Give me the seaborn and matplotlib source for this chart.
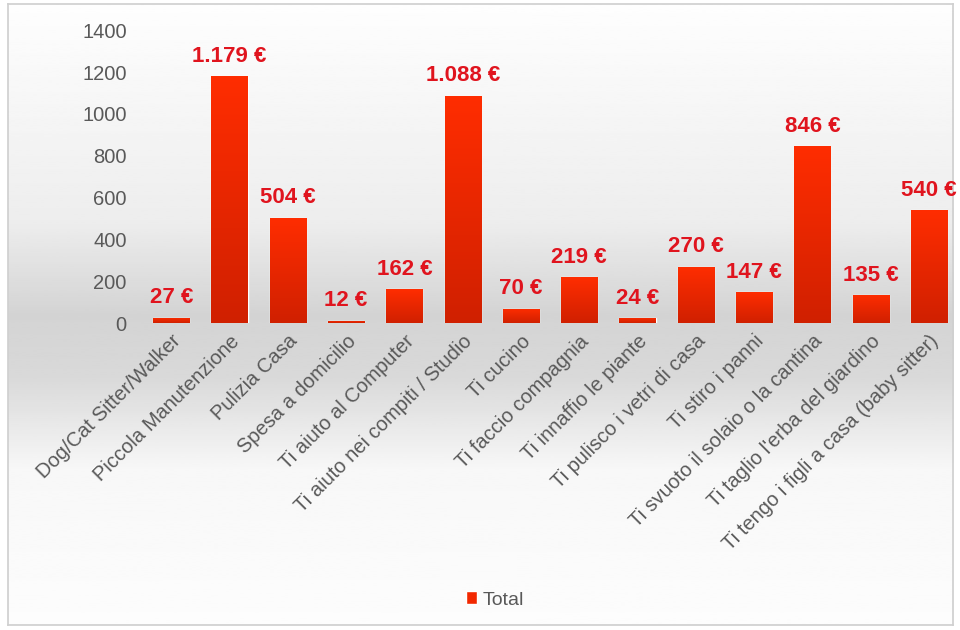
import numpy as np
import pandas as pd
import seaborn as sns
import matplotlib.pyplot as plt
from matplotlib.colors import LinearSegmentedColormap

categories = ["Dog/Cat Sitter/Walker", "Piccola Manutenzione", "Pulizia Casa", "Spesa a domicilio",
              "Ti aiuto al Computer", "Ti aiuto nei compiti / Studio", "Ti cucino", "Ti faccio compagnia",
              "Ti innaffio le piante", "Ti pulisco i vetri di casa", "Ti stiro i panni",
              "Ti svuoto il solaio o la cantina", "Ti taglio l'erba del giardino",
              "Ti tengo i figli a casa (baby sitter)"]
totals = [27, 1179, 504, 12, 162, 1088, 70, 219, 24, 270, 147, 846, 135, 540]
value_labels = ["27 €", "1.179 €", "504 €", "12 €", "162 €", "1.088 €", "70 €", "219 €",
                "24 €", "270 €", "147 €", "846 €", "135 €", "540 €"]

df = pd.DataFrame({"categoria": categories, "Total": totals})

sns.set_theme(style="white")
plt.rcParams['font.family'] = ['Liberation Sans', 'DejaVu Sans']

fig = plt.figure(figsize=(9.6, 6.3), dpi=100)
fig.patch.set_facecolor("white")

# background gradient of the chart frame
bg = fig.add_axes([0.008, 0.008, 0.985, 0.985], zorder=0)
rows = np.linspace(0, 1, 300)
shade = np.interp(rows, [0, 0.35, 0.5, 0.6, 0.75, 1.0], [0.995, 0.93, 0.83, 0.85, 0.97, 0.99])
bg.imshow(shade[:, None], aspect="auto", cmap="gray", vmin=0, vmax=1, extent=[0, 1, 0, 1])
bg.set_xticks([]); bg.set_yticks([])
for s in bg.spines.values():
    s.set_color("#d0d0d0")

ax = fig.add_axes([0.148, 0.487, 0.85, 0.465], zorder=1)
ax.patch.set_alpha(0)
sns.barplot(data=df, x="categoria", y="Total", color="#f22800", width=0.62, ax=ax,
            saturation=1, label="Total")

# vertical gradient on the bars
red_cmap = LinearSegmentedColormap.from_list("red", ["#d02000", "#ff2d00"])
grad = np.linspace(0, 1, 200)[:, None]
for bar in ax.patches:
    x0, y0 = bar.get_x(), bar.get_y()
    w, h = bar.get_width(), bar.get_height()
    im = ax.imshow(grad, cmap=red_cmap, aspect="auto", origin="lower",
                   extent=[x0, x0 + w, y0, y0 + h], zorder=2)
    im.set_clip_path(bar)

for bar, txt in zip(ax.patches, value_labels):
    ax.text(bar.get_x() + bar.get_width() / 2, bar.get_height() + 45, txt,
            ha="center", va="bottom", color="#e0141e", fontsize=16, fontweight="bold")

ax.set_xlim(-0.5, len(categories) - 0.5)
ax.set_ylim(0, 1400)
ax.set_yticks(range(0, 1401, 200))
ax.tick_params(axis="y", colors="#595959", labelsize=14.5, length=0, pad=11)
ax.tick_params(axis="x", colors="#595959", labelsize=14.5, length=0, pad=6)
ax.set_xticks(range(len(categories)))
ax.set_xticklabels(categories, rotation=45, ha="right", rotation_mode="anchor")
ax.set_xlabel("")
ax.set_ylabel("")
sns.despine(ax=ax, left=True, bottom=True)

leg = ax.legend(loc="center", bbox_to_anchor=(495 / 960, 1 - 600 / 630), bbox_transform=fig.transFigure,
                frameon=False, fontsize=14, handlelength=0.6, handleheight=0.6, handletextpad=0.3)
for t in leg.get_texts():
    t.set_color("#595959")

fig.savefig("out.png", dpi=100)
